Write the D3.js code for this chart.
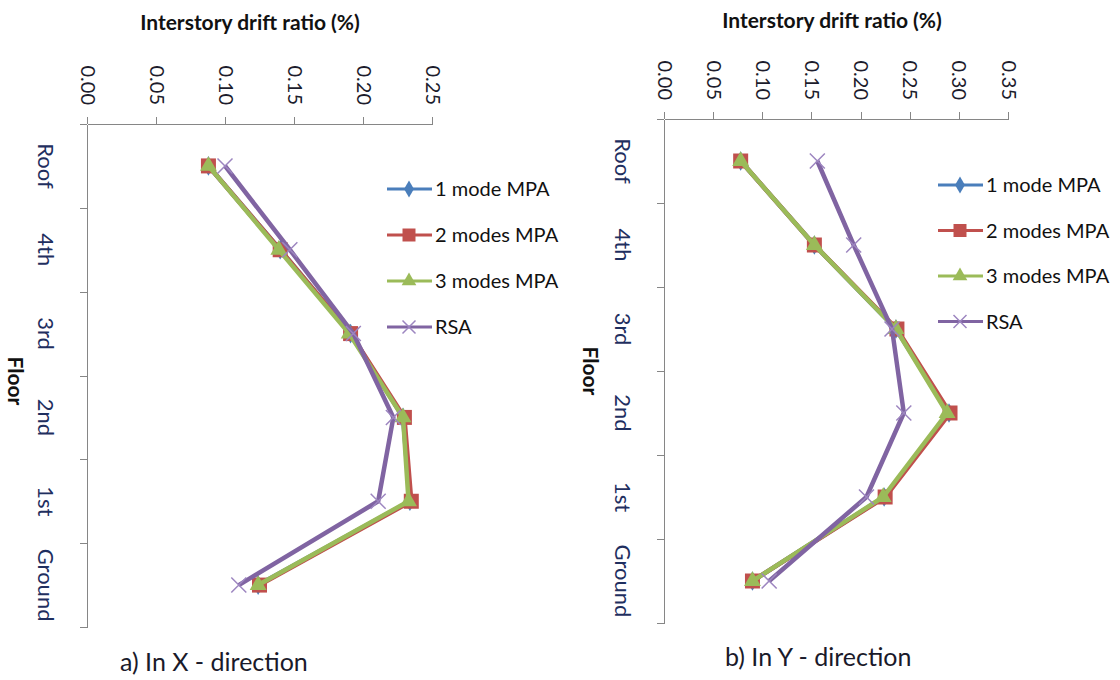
<!DOCTYPE html>
<html>
<head>
<meta charset="utf-8">
<script src="https://cdn.jsdelivr.net/npm/d3@7"></script>
<style>
  html, body { margin: 0; padding: 0; background: #fff; }
  svg { display: block; font-family: Lato, "Open Sans", sans-serif; }
  .axis path, .axis line { stroke: #868686; stroke-width: 1; shape-rendering: crispEdges; }
</style>
</head>
<body>
<svg id="chart" width="1120" height="680"></svg>
<script>
// Floors from top to bottom
const floors = ["Roof", "4th", "3rd", "2nd", "1st", "Ground"];

// Interstory drift ratio (%) in X direction
const mpa1X = [0.088, 0.140, 0.191, 0.229, 0.234, 0.124];
const mpa2X = [0.088, 0.140, 0.191, 0.230, 0.235, 0.125];
const mpa3X = [0.088, 0.139, 0.190, 0.229, 0.233, 0.124];
const rsaX  = [0.100, 0.147, 0.193, 0.222, 0.211, 0.110];

// Interstory drift ratio (%) in Y direction
const mpa1Y = [0.078, 0.153, 0.236, 0.290, 0.224, 0.090];
const mpa2Y = [0.078, 0.153, 0.237, 0.291, 0.225, 0.090];
const mpa3Y = [0.078, 0.153, 0.236, 0.288, 0.223, 0.090];
const rsaY  = [0.156, 0.193, 0.232, 0.244, 0.206, 0.107];

const ticksX = [0, 0.05, 0.10, 0.15, 0.20, 0.25];
const ticksY = [0, 0.05, 0.10, 0.15, 0.20, 0.25, 0.30, 0.35];

const seriesNames = ["1 mode MPA", "2 modes MPA", "3 modes MPA", "RSA"];
const seriesColors = ["#4A7EBB", "#C0504D", "#9BBB59", "#8064A2"];
const seriesMarkers = ["diamond", "square", "triangle", "cross"];

const axisTitle = "Interstory drift ratio (%)";
const floorTitle = "Floor";

const svg = d3.select("#chart");

function drawMarker(g, type, color, x, y, size) {
  if (type === "cross") {
    const h = size / 2;
    g.append("path")
      .attr("d", `M${x - h},${y - h}L${x + h},${y + h}M${x - h},${y + h}L${x + h},${y - h}`)
      .attr("stroke", "#9D86C0").attr("stroke-width", 1.5).attr("fill", "none");
    return;
  }
  const sym = { diamond: d3.symbolDiamond, square: d3.symbolSquare, triangle: d3.symbolTriangle }[type];
  const area = type === "square" ? size * size : type === "triangle" ? size * size * 0.55 : size * size * 0.5;
  g.append("path")
    .attr("d", d3.symbol(sym, area)())
    .attr("transform", `translate(${x},${y})`)
    .attr("fill", color);
}

function panel(opt) {
  const g = svg.append("g");
  const x = d3.scaleLinear().domain([0, opt.max]).range([opt.left, opt.right]);
  const band = d3.scaleBand().domain(floors).range([opt.top, opt.bottom]);
  const idx = d3.scaleLinear().domain([0, floors.length]).range([opt.top, opt.bottom]);

  // value axis along the top
  const ax = g.append("g").attr("class", "axis")
    .attr("transform", `translate(0,${opt.top})`)
    .call(d3.axisTop(x).tickValues(opt.ticks).tickSize(7).tickSizeOuter(0).tickFormat(d3.format(".2f")));
  ax.selectAll("text")
    .attr("transform", "rotate(90)")
    .attr("x", -opt.tickGap).attr("y", 0).attr("dy", "0.35em")
    .attr("text-anchor", "end")
    .attr("fill", "#1c1c2c")
    .style("font-size", "20px").style("font-family", "Lato, sans-serif");

  // floor axis on the left: boundary ticks
  g.append("g").attr("class", "axis")
    .attr("transform", `translate(${opt.left},0)`)
    .call(d3.axisLeft(idx).ticks(floors.length).tickSize(7).tickSizeOuter(0).tickFormat(""));

  // floor labels, centred in each band
  g.selectAll(".floor").data(floors).enter().append("text")
    .attr("transform", d => `translate(${opt.left - 41},${band(d) + band.bandwidth() / 2}) rotate(90)`)
    .attr("text-anchor", "middle").attr("dy", "0.35em")
    .attr("fill", "#1f2f5f")
    .style("font-size", "22px")
    .text(d => d);

  // titles
  g.append("text")
    .attr("x", opt.titleX).attr("y", opt.titleY)
    .attr("text-anchor", "middle")
    .style("font-size", "21px").style("font-weight", "bold").attr("fill", "#111")
    .text(axisTitle);
  g.append("text")
    .attr("transform", `translate(${opt.floorX},${opt.floorY}) rotate(90)`)
    .attr("text-anchor", "middle").attr("dy", "0.35em")
    .style("font-size", "21px").style("font-weight", "bold").attr("fill", "#111")
    .text(floorTitle);
  g.append("text")
    .attr("x", opt.capX).attr("y", opt.capY)
    .style("font-size", "25px").attr("fill", "#1a1a2a")
    .text(opt.caption);

  // series: line then markers, in order
  const line = d3.line()
    .x(d => x(d.v))
    .y(d => band(d.f) + band.bandwidth() / 2);
  opt.series.forEach((vals, i) => {
    const pts = floors.map((f, k) => ({ f, v: vals[k] }));
    const sg = g.append("g");
    sg.append("path").datum(pts)
      .attr("d", line)
      .attr("fill", "none")
      .attr("stroke", seriesColors[i])
      .attr("stroke-width", 4.5)
      .attr("stroke-linejoin", "round");
    pts.forEach(p => drawMarker(sg, seriesMarkers[i], seriesColors[i], x(p.v), band(p.f) + band.bandwidth() / 2, 15));
  });

  // legend
  seriesNames.forEach((name, i) => {
    const ly = opt.legY + i * opt.legStep;
    const lg = g.append("g");
    lg.append("line")
      .attr("x1", opt.legX).attr("x2", opt.legX + 45)
      .attr("y1", ly).attr("y2", ly)
      .attr("stroke", seriesColors[i]).attr("stroke-width", 3);
    drawMarker(lg, seriesMarkers[i], seriesColors[i], opt.legX + 22, ly, 13);
    lg.append("text")
      .attr("x", opt.legX + 48).attr("y", ly).attr("dy", "0.35em")
      .style("font-size", "20px").attr("fill", "#111")
      .text(name);
  });
}

panel({
  left: 87, right: 432, top: 124, bottom: 627, max: 0.25, ticks: ticksX,
  tickGap: 19,
  series: [mpa1X, mpa2X, mpa3X, rsaX],
  titleX: 250, titleY: 30,
  floorX: 15, floorY: 381,
  capX: 120, capY: 671, caption: "a) In X - direction",
  legX: 387, legY: 189, legStep: 46
});

panel({
  left: 664, right: 1008, top: 119, bottom: 623, max: 0.35, ticks: ticksY,
  tickGap: 19,
  series: [mpa1Y, mpa2Y, mpa3Y, rsaY],
  titleX: 832, titleY: 28,
  floorX: 590, floorY: 371,
  capX: 725, capY: 666, caption: "b) In Y - direction",
  legX: 938, legY: 185, legStep: 45.5
});
</script>
</body>
</html>
